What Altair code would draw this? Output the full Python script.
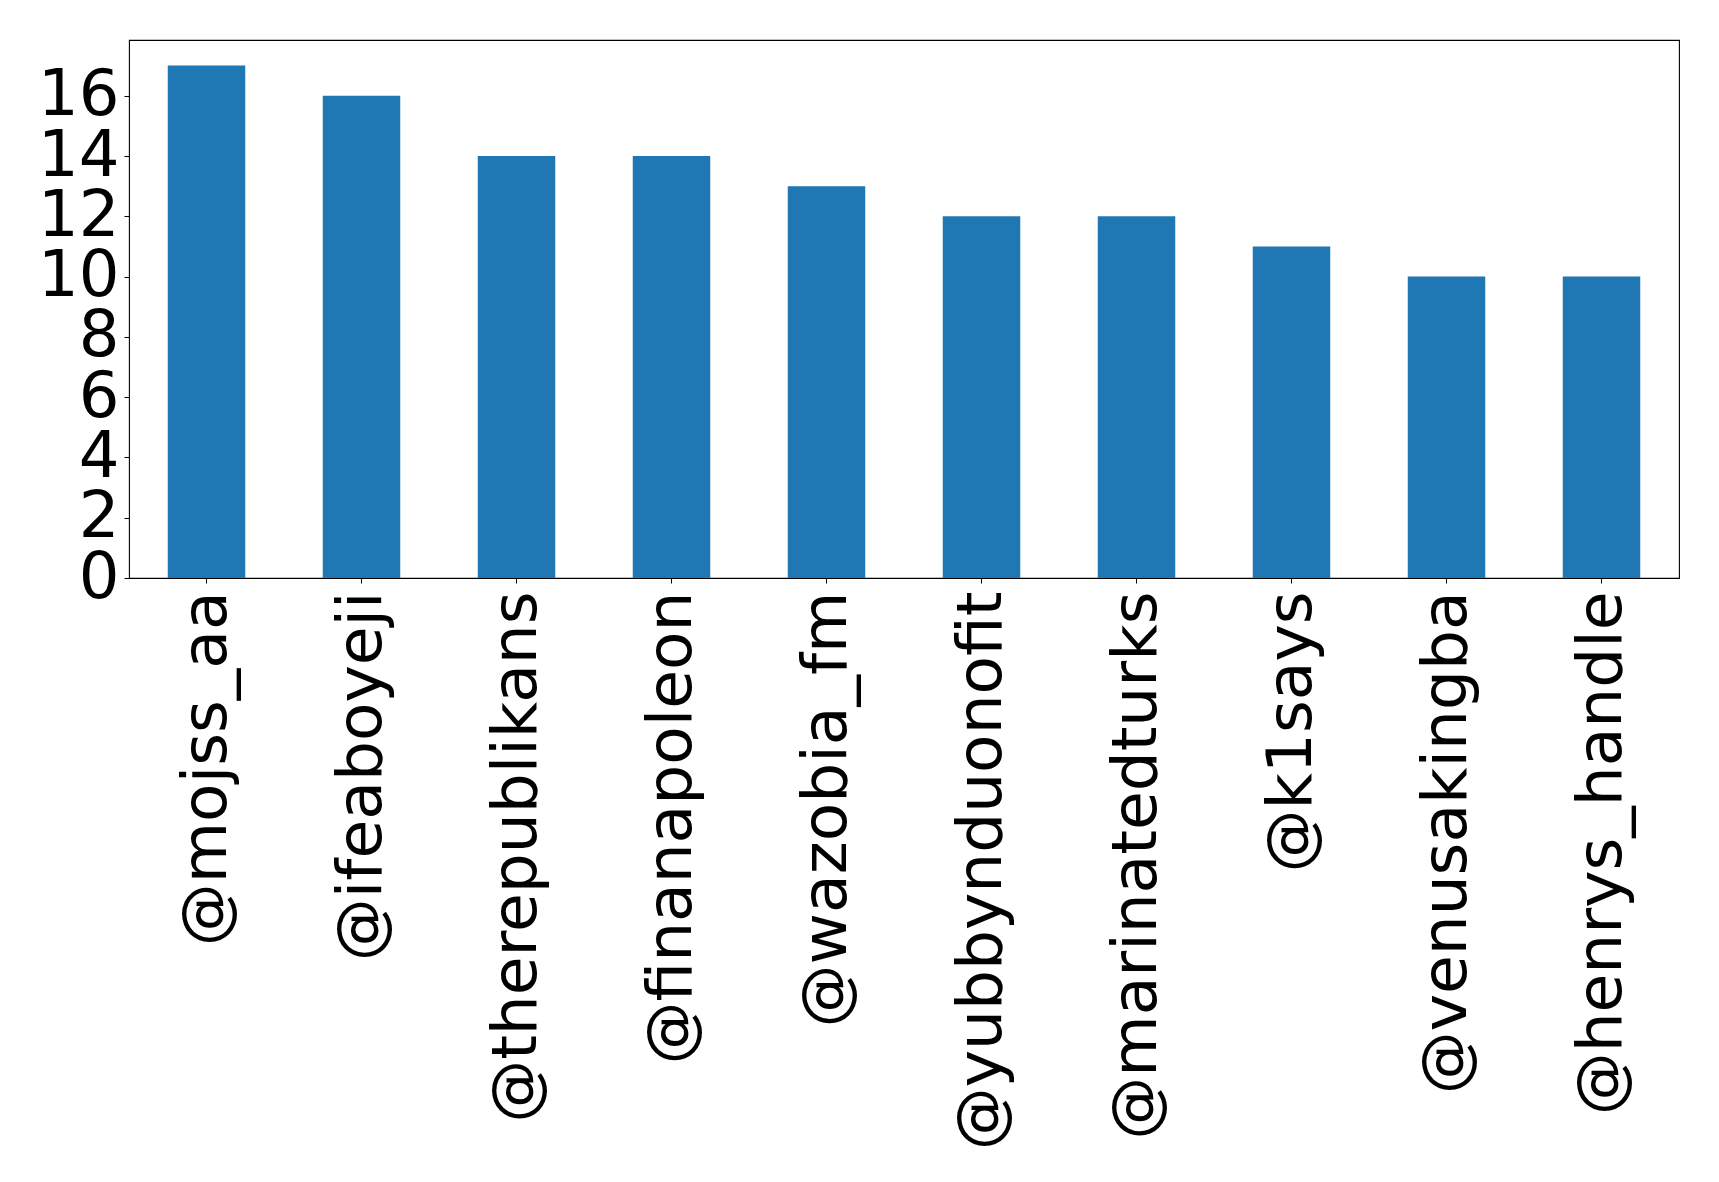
import altair as alt
import pandas as pd

users = ["@mojss_aa", "@ifeaboyeji", "@therepublikans", "@finanapoleon", "@wazobia_fm",
         "@yubbynduonofit", "@marinatedturks", "@k1says", "@venusakingba", "@henrys_handle"]
counts = [17, 16, 14, 14, 13, 12, 12, 11, 10, 10]
y_ticks = [0, 2, 4, 6, 8, 10, 12, 14, 16]

df = pd.DataFrame({"user": users, "count": counts})

chart = alt.Chart(df).mark_bar(color="#1f77b4").encode(
    x=alt.X("user:N", sort=users, title=None,
            scale=alt.Scale(paddingInner=0.5, paddingOuter=0.25),
            axis=alt.Axis(labelAngle=-90, labelFontSize=63, labelFont="DejaVu Sans",
                          labelColor="black", labelLimit=0, labelPadding=8,
                          labelOverlap=False,
                          tickSize=5, tickColor="black", domain=False, grid=False)),
    y=alt.Y("count:Q", title=None,
            scale=alt.Scale(domain=[0, 17.85], nice=False, zero=True),
            axis=alt.Axis(values=y_ticks, labelFontSize=64, labelFont="DejaVu Sans",
                          labelColor="black", labelPadding=5, tickSize=5,
                          labelOverlap=False,
                          tickColor="black", domain=False, grid=False)),
).properties(
    width=1550, height=538,
    autosize=alt.AutoSizeParams(type="none"),
    padding={"left": 121, "top": 32, "right": 30, "bottom": 590},
    background="white",
).configure_view(stroke="black", strokeWidth=1.1)

chart.save("out.html", embed_options={"renderer": "svg", "actions": False})
